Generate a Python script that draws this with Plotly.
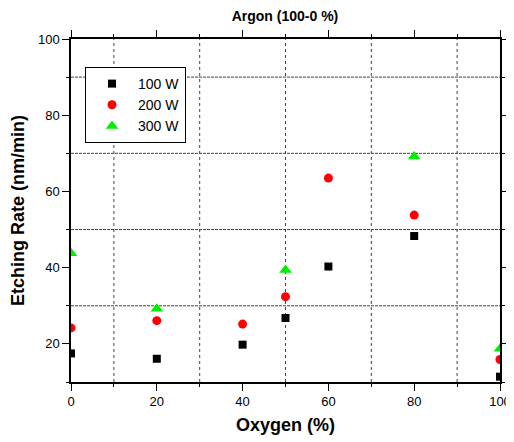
import plotly.graph_objects as go

oxygen_100 = [0, 20, 40, 50, 60, 80, 100]
rate_100 = [17.5, 16.1, 19.8, 26.8, 40.3, 48.3, 11.4]
oxygen_200 = [0, 20, 40, 50, 60, 80, 100]
rate_200 = [24.2, 26.1, 25.2, 32.4, 63.5, 53.8, 15.9]
oxygen_300 = [0, 20, 50, 80, 100]
rate_300 = [43.8, 29.2, 39.4, 69.2, 18.7]

FONT = "Liberation Sans, Arial, sans-serif"

# The page body has an 8px default margin, so the figure is shifted by 8px;
# size and margins compensate for it.
W, H = 506, 434

fig = go.Figure()
fig.add_trace(go.Scatter(x=oxygen_100, y=rate_100, mode="markers", name="100 W",
                         marker=dict(symbol="square", size=8, color="black")))
fig.add_trace(go.Scatter(x=oxygen_200, y=rate_200, mode="markers", name="200 W",
                         marker=dict(symbol="circle", size=9, color="#ff0000")))
fig.add_trace(go.Scatter(x=oxygen_300, y=rate_300, mode="markers", name="300 W",
                         marker=dict(symbol="triangle-up", size=11, color="#00ee00")))

for v in [10, 30, 50, 70, 90]:
    fig.add_shape(type="line", xref="x", yref="paper", x0=v, x1=v, y0=0, y1=1,
                  line=dict(color="#444444", width=1, dash="dot"), layer="below")
for v in [30, 50, 70, 90]:
    fig.add_shape(type="line", xref="paper", yref="y", x0=0, x1=1, y0=v, y1=v,
                  line=dict(color="#444444", width=1, dash="3px,1px"), layer="below")

axis_common = dict(showline=True, linecolor="black", linewidth=1.5, mirror="ticks",
                   ticks="outside", ticklen=7, tickcolor="black", showgrid=False,
                   zeroline=False, automargin=False,
                   tickfont=dict(family=FONT, size=13, color="black"),
                   minor=dict(ticks="outside", ticklen=3, tickcolor="black", dtick=10))

fig.update_layout(
    width=W, height=H,
    margin=dict(l=63, r=14, t=31, b=60, autoexpand=False),
    paper_bgcolor="white", plot_bgcolor="white",
    title=dict(text="<b>Argon (100-0 %)</b>", x=277 / W, xanchor="center",
               y=1 - 8 / H, yanchor="middle", automargin=False,
               font=dict(family=FONT, size=14, color="black")),
    xaxis=dict(range=[0, 100], dtick=20, tick0=0,
               title=dict(text="<b>Oxygen (%)</b>", font=dict(family=FONT, size=18, color="black"), standoff=10),
               **axis_common),
    yaxis=dict(range=[10, 100], dtick=20, tick0=0,
               title=dict(text="<b>Etching Rate (nm/min)</b>", font=dict(family=FONT, size=18, color="black"), standoff=14),
               **axis_common),
    legend=dict(x=(85 - 71) / 429, y=1 - (67 - 39) / 343, xanchor="left", yanchor="top",
                bordercolor="black", borderwidth=1, bgcolor="white",
                font=dict(family=FONT, size=14, color="black"),
                itemwidth=42, tracegroupgap=0),
    showlegend=True,
)

fig.write_html("out.html")
